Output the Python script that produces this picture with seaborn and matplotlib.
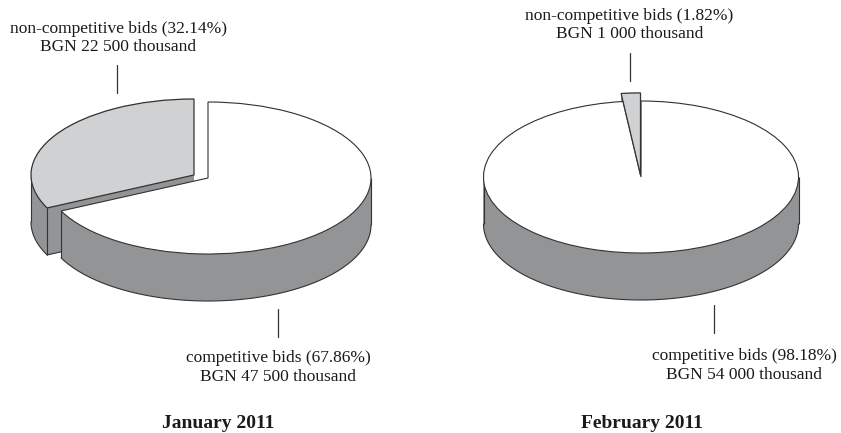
import numpy as np
import matplotlib
matplotlib.use('Agg')
import matplotlib.pyplot as plt
from matplotlib.patches import Rectangle
import seaborn as sns

sns.set_theme(style='white')
plt.rcParams['font.family'] = ['Liberation Serif', 'DejaVu Serif']

W, H = 841, 433

# BGN thousand: non-competitive, competitive
jan_values = [22500, 47500]
feb_values = [1000, 54000]

months = ['January 2011', 'February 2011']
jan_labels = [['non-competitive bids (32.14%)', 'BGN 22 500 thousand'],
              ['competitive bids (67.86%)', 'BGN 47 500 thousand']]
feb_labels = [['non-competitive bids (1.82%)', 'BGN 1 000 thousand'],
              ['competitive bids (98.18%)', 'BGN 54 000 thousand']]

GREY_TOP = '#d0d1d2'
SIDE = '#929496'
WHITE_TOP = '#ffffff'
EDGE = '#333333'
TEXT = '#1a1a1a'


def one_slice(ax, values, idx, center, radius, color, edge=None, lw=0):
    # pie works out the angles, only the wanted slice is kept
    wedges, _ = ax.pie(values, startangle=90, center=center, radius=radius,
                       colors=[color, color], normalize=True,
                       wedgeprops={'edgecolor': edge or color, 'linewidth': lw})
    wedges[1 - idx].remove()
    return wedges[idx]


def extrude(ax, values, idx, center, radius, depth):
    x0, y0 = center
    for d in np.linspace(depth, 0, 70):
        w = one_slice(ax, values, idx, (x0, y0 - d), radius, SIDE)
        # the part above the centre is hidden by the top face anyway
        w.set_clip_path(Rectangle((-5, y0 - d - 5), 10, 5, transform=ax.transData))

    def point(a, dy=0):
        return (x0 + radius * np.cos(np.radians(a)),
                y0 + radius * np.sin(np.radians(a)) - dy)

    # bottom outline: lower arc
    t1, t2 = max(w.theta1, 180), min(w.theta2, 360)
    if t1 < t2:
        arc = np.array([point(a, depth) for a in np.linspace(t1, t2, 120)])
        ax.plot(arc[:, 0], arc[:, 1], color=EDGE, lw=0.8)

    # cut edge, only the end that faces the viewer
    if np.sin(np.radians(w.theta2)) < -0.01:
        x, y = point(w.theta2, depth)
        ax.plot([x, x0], [y, y0 - depth], color=EDGE, lw=0.8)

    # vertical outlines at the visible corners and the tangent points
    corners = [a for a in (w.theta1, w.theta2) if np.sin(np.radians(a)) < -0.01]
    for a in corners + [a for a in (180, 360) if w.theta1 <= a <= w.theta2]:
        x, y = point(a)
        ax.plot([x, x], [y, y - depth], color=EDGE, lw=0.8, solid_capstyle='butt')


def pie3d(fig, values, cx, cy, rx, ry, depth_px, grey_shift, grey_radius):
    depth = depth_px / ry
    # one layer each, plotted lines would otherwise sit above all the pie patches
    layers = [fig.add_axes([0, 0, 1, 1], facecolor='none') for _ in range(3)]
    extrude(layers[0], values, 0, grey_shift, grey_radius, depth)
    extrude(layers[1], values, 1, (0, 0), 1, depth)
    one_slice(layers[2], values, 1, (0, 0), 1, WHITE_TOP, EDGE, 0.8)
    one_slice(layers[2], values, 0, grey_shift, grey_radius, GREY_TOP, EDGE, 0.9)
    for a in layers:
        a.set_aspect('auto')
        a.set_xlim(-cx / rx, (W - cx) / rx)
        a.set_ylim((cy - H) / ry, cy / ry)
        a.axis('off')


fig = plt.figure(figsize=(W / 100, H / 100), dpi=100, facecolor='white')

pie3d(fig, jan_values, 208, 178, 163, 76, 47, (-14 / 163, 3 / 76), 1.0)
pie3d(fig, feb_values, 641, 177, 157.5, 76, 47, (-0.5 / 157.5, 2 / 76), 1.08)

# labels and leader lines in pixel coordinates
top = fig.add_axes([0, 0, 1, 1], facecolor='none')
top.set_xlim(0, W)
top.set_ylim(H, 0)
top.axis('off')

for x, y0, y1 in [(117, 65, 93), (278, 309, 337), (630, 53, 81), (714, 305, 333)]:
    top.plot([x, x], [y0, y1], color='#333333', lw=0.9)

for lines, x, baselines in [(jan_labels[0], 118.5, (33, 51)),
                            (jan_labels[1], 278.5, (362, 381)),
                            (feb_labels[0], 629.5, (20.5, 38)),
                            (feb_labels[1], 744.5, (360.5, 379))]:
    for line, y in zip(lines, baselines):
        top.text(x, y, line, ha='center', va='baseline', fontsize=12.55, color=TEXT)

for month, x in zip(months, (218, 642)):
    top.text(x, 428, month, ha='center', va='baseline', fontsize=14,
             fontweight='bold', color=TEXT)

fig.savefig('out.png', dpi=100)
